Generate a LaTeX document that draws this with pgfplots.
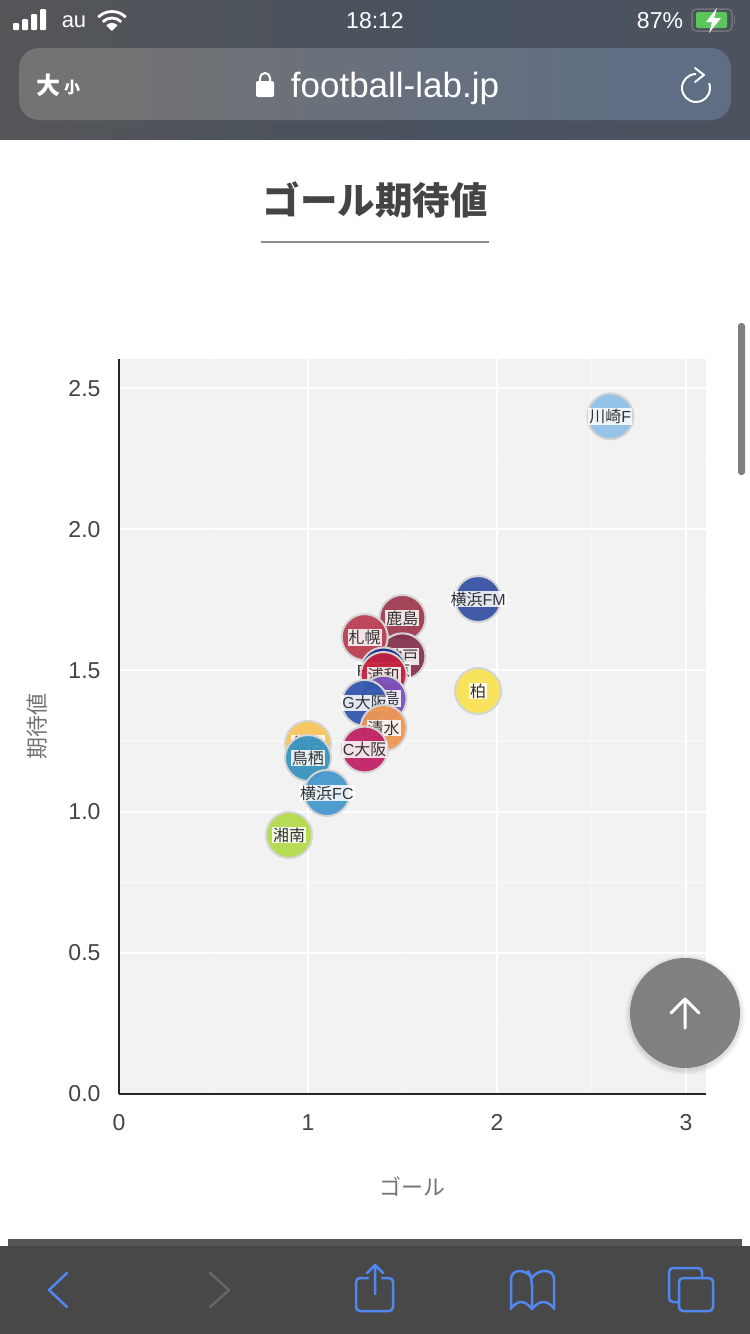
\documentclass[border=0pt]{standalone}
\usepackage{fontspec}
\setmainfont{Liberation Sans}
\newfontfamily\cjk{Noto Sans CJK JP}
\usepackage{pgfplots}
\pgfplotsset{compat=1.18}

\definecolor{plotbg}{HTML}{F2F2F2}
\definecolor{barblue}{HTML}{5088F0}
\definecolor{bdr}{HTML}{D4D4D4}
\definecolor{txt}{HTML}{444444}
\definecolor{topbar1}{HTML}{5E5553}
\definecolor{topbar2}{HTML}{565656}
\definecolor{topbar3}{HTML}{49525F}
\definecolor{topbar4}{HTML}{4F5560}
\definecolor{url1}{HTML}{786E6C}
\definecolor{url2}{HTML}{737373}
\definecolor{url3}{HTML}{5F6E85}
\definecolor{url4}{HTML}{667080}
\definecolor{btn}{HTML}{7C7C7C}
\definecolor{batgreen}{HTML}{5CC65C}
\definecolor{strip}{HTML}{555555}
\definecolor{tool}{HTML}{484848}
\definecolor{off}{HTML}{666666}
\definecolor{kashima}{HTML}{A03C52}
\definecolor{kobe}{HTML}{873450}
\definecolor{sapporo}{HTML}{BA3F52}
\definecolor{tokyo}{HTML}{1B2A8F}
\definecolor{urawa}{HTML}{C4203C}
\definecolor{hiroshima}{HTML}{7B50BC}
\definecolor{gosaka}{HTML}{3358AE}
\definecolor{shimizu}{HTML}{EF9655}
\definecolor{cosaka}{HTML}{C02466}
\definecolor{sendai}{HTML}{F7C55C}
\definecolor{tosu}{HTML}{3A94C0}
\definecolor{yfc}{HTML}{4798CE}
\definecolor{shonan}{HTML}{B3DA4C}
\definecolor{kawasaki}{HTML}{92C1E8}
\definecolor{yfm}{HTML}{3853A6}
\definecolor{kashiwa}{HTML}{FAE355}
\pgfdeclarehorizontalshading{topbar}{100bp}{
  color(0bp)=(topbar1); color(20bp)=(topbar2); color(55bp)=(topbar3); color(100bp)=(topbar4)}
\pgfdeclarehorizontalshading{urlbar}{100bp}{
  color(0bp)=(url1); color(30bp)=(url2); color(70bp)=(url3); color(100bp)=(url4)}

% one bubble: colour, label, goals, xG
\newcommand{\bubble}[4]{
  \addplot[only marks, mark=*, mark size=23pt,
    mark options={draw=bdr, line width=2pt, fill=#1, fill opacity=0.95},
    nodes near coords={#2}, nodes near coords align={center},
    every node near coord/.style={font=\fontsize{16}{18}\selectfont, text=black!80,
      fill=white, fill opacity=0.85, text opacity=1, inner xsep=1pt, inner ysep=1pt,
      anchor=center}]
    coordinates {(#3,#4)};
}

\begin{document}
\begin{tikzpicture}
\path[use as bounding box, fill=white] (0pt,0pt) rectangle (750pt,-1334pt);

\begin{axis}[
  at={(119pt,-1094pt)}, anchor=south west,
  scale only axis, width=587pt, height=735pt,
  xmin=0, xmax=3.106, ymin=0, ymax=2.603,
  axis x line=bottom, axis y line=left,
  axis line style={-, line width=2pt, color=black!85},
  axis background/.style={fill=plotbg},
  xtick={0,1,2,3}, ytick={0,0.5,1,1.5,2,2.5},
  xticklabels={0,1,2,3}, yticklabels={0.0,0.5,1.0,1.5,2.0,2.5},
  minor x tick num=1, minor y tick num=1,
  major tick length=0pt, minor tick length=0pt,
  grid=both,
  major grid style={white, line width=2pt},
  minor grid style={white, opacity=0.45, line width=1.5pt},
  tick label style={font=\fontsize{23}{26}\selectfont, text=txt},
  xticklabel style={yshift=-17pt},
  yticklabel style={xshift=-15pt},
  xlabel={\cjk ゴール}, ylabel={\cjk 期待値},
  every axis x label/.style={at={(axis description cs:0.5,-0.1252)}, anchor=center,
    font=\fontsize{22}{26}\selectfont, text=black!55},
  every axis y label/.style={at={(axis description cs:-0.1397,0.5)}, anchor=center, rotate=90,
    font=\fontsize{22}{26}\selectfont, text=black!55},
]
\bubble{kashima}{\cjk 鹿島}{1.5}{1.686}
\bubble{kobe}{\cjk 神戸}{1.5}{1.55}
\bubble{sapporo}{\cjk 札幌}{1.3}{1.618}
\bubble{tokyo}{FC\cjk 東京}{1.4}{1.50}
\bubble{urawa}{\cjk 浦和}{1.4}{1.484}
\bubble{hiroshima}{\cjk 広島}{1.4}{1.40}
\bubble{gosaka}{G\cjk 大阪}{1.3}{1.385}
\bubble{shimizu}{\cjk 清水}{1.4}{1.296}
\bubble{cosaka}{C\cjk 大阪}{1.3}{1.22}
\bubble{sendai}{\cjk 仙台}{1.0}{1.24}
\bubble{tosu}{\cjk 鳥栖}{1.0}{1.19}
\bubble{yfc}{{\cjk 横浜}FC}{1.1}{1.066}
\bubble{shonan}{\cjk 湘南}{0.9}{0.917}
\bubble{kawasaki}{{\cjk 川崎}F}{2.6}{2.4}
\bubble{yfm}{{\cjk 横浜}FM}{1.9}{1.753}
\bubble{kashiwa}{\cjk 柏}{1.9}{1.427}
\end{axis}

\begin{scope}[x=1pt, y=-1pt]
% title
\node[font=\cjk\bfseries\fontsize{37.5}{42}\selectfont, text=txt] at (375,200) {ゴール期待値};
\draw[color=black!45, line width=1.5pt] (261,242) -- (489,242);

% scrollbar and back to top button
\fill[black!50, rounded corners=3pt] (738,323) rectangle (745,475);
\foreach \r in {60,59,58,57,56}
  \fill[black, opacity=0.025] (685,1015) circle[radius=\r pt];
\fill[btn, opacity=0.95] (685,1013) circle[radius=55pt];
\draw[white, line width=3pt, line cap=round, line join=round]
  (685,1028) -- (685,999) (671,1013) -- (685,999) -- (699,1013);

% status bar and address bar
\shade[shading=topbar] (0,0) rectangle (750,139);
\shade[shading=urlbar, rounded corners=20pt] (19,48) rectangle (731,120);
\fill[white, rounded corners=1pt] (13,23) rectangle (19,30) (22,19) rectangle (28,30)
  (31,14) rectangle (37,30) (40,9) rectangle (46,30);
\node[white, font=\fontsize{22}{26}\selectfont] at (74,22) {au};
\fill[white] (112,31) -- (106.3,25.3) arc[start angle=135, end angle=45, radius=8pt] -- cycle;
\draw[white, line width=2.8pt] (102.8,21.8) arc[start angle=135, end angle=45, radius=13pt];
\draw[white, line width=2.8pt] (98.2,17.2) arc[start angle=135, end angle=45, radius=19.5pt];
\node[white, font=\fontsize{23}{26}\selectfont] at (375,21) {18:12};
\node[white, font=\fontsize{23}{26}\selectfont] at (660,21) {87\%};
\draw[black!55, line width=1.5pt, rounded corners=4pt] (692,9) rectangle (732,31);
\fill[black!55] (733.5,16) rectangle (735,24);
\fill[batgreen, rounded corners=2pt] (696,12) rectangle (727,28);
\fill[white] (717,8) -- (706,22) -- (712,22) -- (709,33) -- (721,18) -- (714,18) -- cycle;

\node[white, font=\cjk\bfseries\fontsize{24}{26}\selectfont] at (48,85) {大};
\node[white, font=\cjk\bfseries\fontsize{16}{18}\selectfont] at (72,88) {小};
\fill[white, rounded corners=2pt] (256,81) rectangle (274,97);
\draw[white, line width=2pt] (260,82) -- (260,78) arc[start angle=180, end angle=0, radius=5pt] -- (270,82);
\node[white, font=\fontsize{35}{38}\selectfont] at (395,88) {football-lab.jp};
\draw[white, line width=2pt] (696,74) arc[start angle=90, end angle=380, radius=14pt];
\draw[white, line width=2pt, line cap=round, line join=round] (695,68) -- (704,75) -- (695,82);

% toolbar
\fill[strip] (8,1239) rectangle (742,1246);
\fill[tool] (0,1246) rectangle (750,1334);
\begin{scope}[barblue, line width=2.5pt, line cap=round, line join=round]
\draw (67,1273) -- (49,1290) -- (67,1307);
\draw[off] (210,1273) -- (229,1290) -- (210,1307);
\draw[rounded corners=4pt] (368,1278) -- (356,1278) -- (356,1311) -- (393,1311) -- (393,1278) -- (382,1278);
\draw (375,1294) -- (375,1265) (367,1273) -- (375,1265) -- (383,1273);
\draw[rounded corners=8pt] (532,1309) -- (532,1278) -- (528,1271) -- (511,1271) -- (511,1309);
\draw[rounded corners=8pt] (532,1278) -- (536,1271) -- (554,1271) -- (554,1309);
\draw (511,1308) .. controls (520,1298) and (526,1302) .. (532,1309)
      .. controls (538,1302) and (545,1298) .. (554,1308);
\draw[rounded corners=4pt] (679,1302) -- (669,1302) -- (669,1268) -- (702,1268) -- (702,1278);
\draw[rounded corners=4pt] (679,1278) rectangle (713,1311);
\end{scope}
\end{scope}
\end{tikzpicture}
\end{document}
